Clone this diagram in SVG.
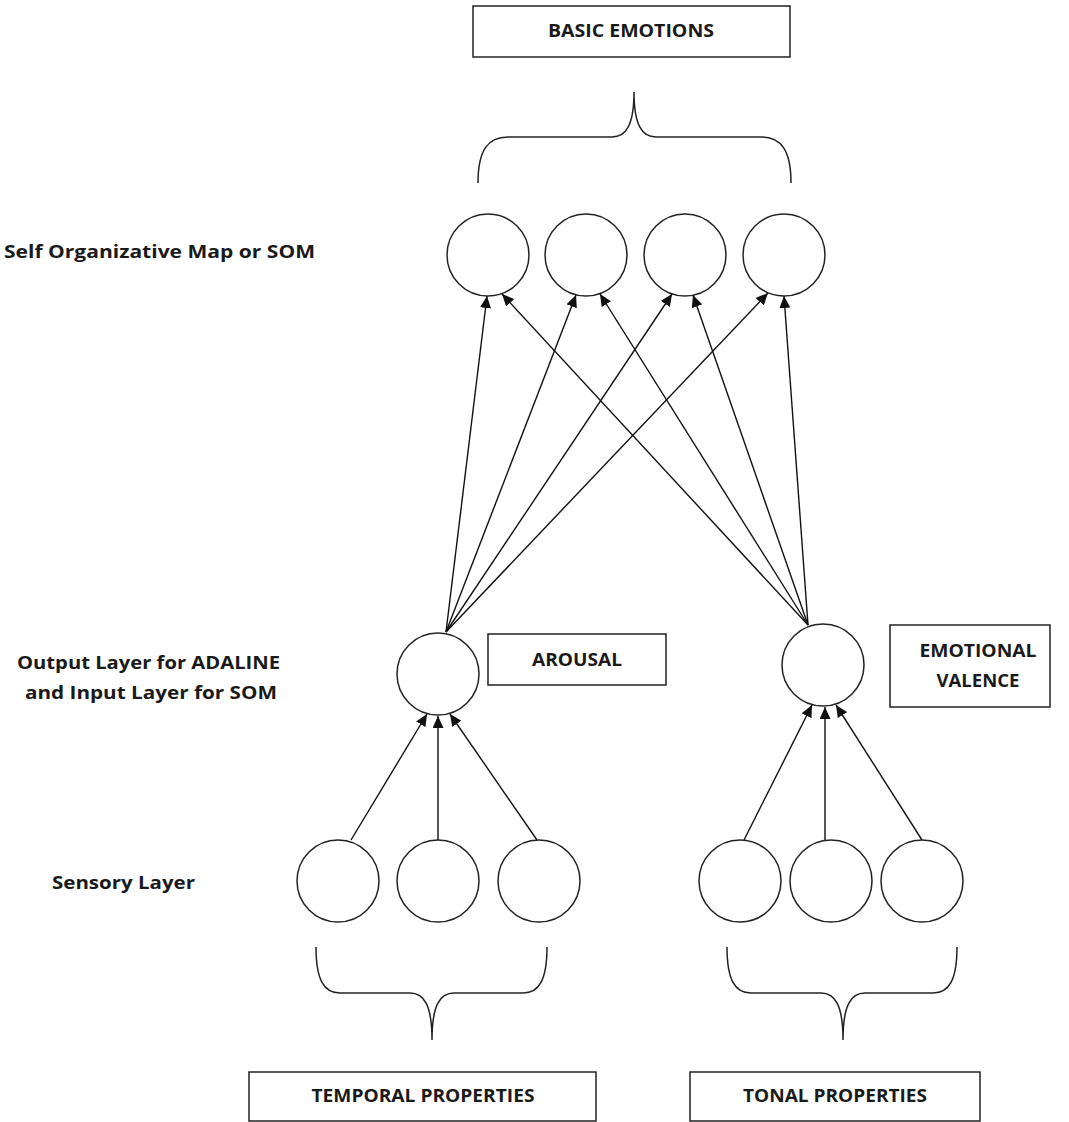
<svg xmlns="http://www.w3.org/2000/svg" width="1069" height="1122" viewBox="0 0 1069 1122">
  <style>
    .box { fill: #fff; stroke: #222; stroke-width: 1.5; }
    .node { fill: #fff; stroke: #222; stroke-width: 1.5; }
    .brace { fill: none; stroke: #222; stroke-width: 1.5; }
    .edge { fill: none; stroke: #111; stroke-width: 1.4; marker-end: url(#arrow); }
    .lbl { font-family: "Open Sans", "Liberation Sans", Arial, sans-serif; font-weight: 700; font-size: 18px; fill: #1a1a1a; }
    .mid { text-anchor: middle; }
  </style>
  <defs>
    <marker id="arrow" markerUnits="userSpaceOnUse" markerWidth="13" markerHeight="11" refX="12" refY="5.5" orient="auto">
      <path d="M0,0 L12,5.5 L0,11 z" fill="#111"/>
    </marker>
  </defs>
  <rect width="1069" height="1122" fill="#fff"/>

  <!-- layer captions -->
  <g id="captions">
    <text class="lbl" x="4" y="258" textLength="311" lengthAdjust="spacingAndGlyphs">Self Organizative Map or SOM</text>
    <text class="lbl" x="17" y="669" textLength="263" lengthAdjust="spacingAndGlyphs">Output Layer for ADALINE</text>
    <text class="lbl" x="25" y="699" textLength="252" lengthAdjust="spacingAndGlyphs">and Input Layer for SOM</text>
    <text class="lbl" x="52" y="889" textLength="143" lengthAdjust="spacingAndGlyphs">Sensory Layer</text>
  </g>

  <!-- output categories -->
  <g id="basic-emotions">
    <rect class="box" x="473" y="6" width="317" height="51"/>
    <text class="lbl mid" x="631" y="37" textLength="166" lengthAdjust="spacingAndGlyphs">BASIC EMOTIONS</text>
  </g>
  <g id="brace-top">
    <path class="brace" d="M478,183 C478,150 488,137 508,137 L612,137 C626,137 634,125 634,92 C634,125 642,137 656,137 L761,137 C781,137 791,150 791,183"/>
  </g>

  <!-- SOM nodes -->
  <g id="som-1"><circle class="node" cx="488" cy="255" r="41"/></g>
  <g id="som-2"><circle class="node" cx="586" cy="255" r="41"/></g>
  <g id="som-3"><circle class="node" cx="685" cy="255" r="41"/></g>
  <g id="som-4"><circle class="node" cx="784" cy="255" r="41"/></g>

  <!-- ADALINE outputs -->
  <g id="arousal-node"><circle class="node" cx="438" cy="674" r="41"/></g>
  <g id="arousal-label">
    <rect class="box" x="488" y="634" width="178" height="51"/>
    <text class="lbl mid" x="577" y="666" textLength="90" lengthAdjust="spacingAndGlyphs">AROUSAL</text>
  </g>
  <g id="valence-node"><circle class="node" cx="823" cy="665" r="41"/></g>
  <g id="valence-label">
    <rect class="box" x="890" y="625" width="160" height="82"/>
    <text class="lbl mid" x="978" y="657" textLength="117" lengthAdjust="spacingAndGlyphs">EMOTIONAL</text>
    <text class="lbl mid" x="978" y="687" textLength="83" lengthAdjust="spacingAndGlyphs">VALENCE</text>
  </g>

  <!-- sensory nodes -->
  <g id="sens-t1"><circle class="node" cx="338" cy="881" r="41"/></g>
  <g id="sens-t2"><circle class="node" cx="438" cy="881" r="41"/></g>
  <g id="sens-t3"><circle class="node" cx="539" cy="881" r="41"/></g>
  <g id="sens-n1"><circle class="node" cx="740" cy="881" r="41"/></g>
  <g id="sens-n2"><circle class="node" cx="831" cy="881" r="41"/></g>
  <g id="sens-n3"><circle class="node" cx="922" cy="881" r="41"/></g>

  <!-- input braces and sources -->
  <g id="brace-temporal">
    <path class="brace" d="M316,947 C316,980 324,993 340,993 L410,993 C424,993 432,1005 432,1040 C432,1005 440,993 454,993 L523,993 C539,993 547,980 547,947"/>
  </g>
  <g id="brace-tonal">
    <path class="brace" d="M727,947 C727,980 735,993 751,993 L821,993 C835,993 843,1005 843,1040 C843,1005 851,993 865,993 L933,993 C949,993 957,980 957,947"/>
  </g>
  <g id="temporal-properties">
    <rect class="box" x="249" y="1072" width="347" height="49"/>
    <text class="lbl mid" x="423" y="1102" textLength="223" lengthAdjust="spacingAndGlyphs">TEMPORAL PROPERTIES</text>
  </g>
  <g id="tonal-properties">
    <rect class="box" x="690" y="1072" width="290" height="49"/>
    <text class="lbl mid" x="835" y="1102" textLength="184" lengthAdjust="spacingAndGlyphs">TONAL PROPERTIES</text>
  </g>

  <!-- connectors -->
  <g id="connectors">
    <!-- sensory to ADALINE outputs -->
    <line class="edge" x1="351" y1="840" x2="427" y2="714"/>
    <line class="edge" x1="438" y1="840" x2="438" y2="716"/>
    <line class="edge" x1="537" y1="840" x2="450" y2="714"/>
    <line class="edge" x1="744" y1="840" x2="812" y2="705"/>
    <line class="edge" x1="825" y1="840" x2="825" y2="707"/>
    <line class="edge" x1="922" y1="840" x2="836" y2="705"/>
    <!-- arousal to SOM -->
    <line class="edge" x1="446" y1="632" x2="487" y2="296"/>
    <line class="edge" x1="446" y1="632" x2="576" y2="295"/>
    <line class="edge" x1="446" y1="632" x2="672" y2="294"/>
    <line class="edge" x1="446" y1="632" x2="768" y2="293"/>
    <!-- valence to SOM -->
    <line class="edge" x1="808" y1="625" x2="502" y2="294"/>
    <line class="edge" x1="808" y1="625" x2="600" y2="294"/>
    <line class="edge" x1="808" y1="625" x2="693" y2="295"/>
    <line class="edge" x1="808" y1="625" x2="784" y2="296"/>
  </g>
</svg>
